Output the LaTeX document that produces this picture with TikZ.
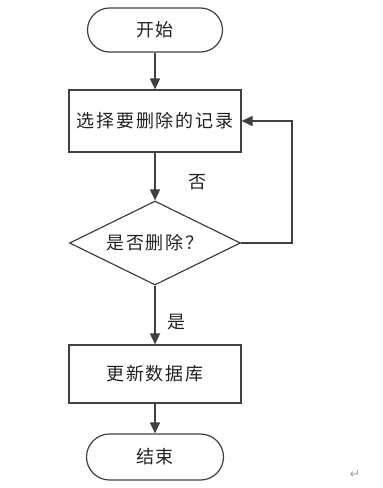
\documentclass[tikz,border=0pt]{standalone}
\usepackage{fontspec}
\newfontfamily\cjk[LetterSpace=10]{Noto Sans CJK SC}
\newfontfamily\dejavu{DejaVu Sans}
\usetikzlibrary{shapes.geometric,arrows.meta}
\definecolor{linec}{HTML}{404040}
\definecolor{textc}{HTML}{222222}
\tikzset{
  every node/.style={font=\cjk\fontsize{18pt}{21pt}\selectfont, text=textc},
  term/.style={draw=linec, line width=1.2pt, minimum width=135pt, minimum height=44pt, rounded corners=22pt, inner sep=0pt},
  procbox/.style={draw=linec, line width=1.2pt, minimum width=172pt, minimum height=62pt, inner sep=0pt},
  decis/.style={draw=linec, line width=1.2pt, diamond, aspect=2, minimum width=171pt, minimum height=84pt, inner sep=0pt},
  conn/.style={draw=linec, line width=1.7pt, -{Triangle[length=11pt,width=10pt]}},
  lbl/.style={inner sep=0pt},
}
\begin{document}
\begin{tikzpicture}[x=1pt,y=1pt]
\useasboundingbox (0,0) rectangle (383,-488);
\node[term] (start) at (155,-30) {开始};
\node[procbox] (sel) at (155,-121) {选择要删除的记录};
\node[decis] (dec) at (155,-243) {是否删除？};
\node[procbox, minimum height=58pt] (upd) at (155,-374) {更新数据库};
\node[term, minimum width=137pt, minimum height=46pt, rounded corners=23pt] (end) at (155,-457) {结束};
\coordinate (fb) at (292,-243);
\draw[conn] (start) -- (sel);
\draw[conn] (sel) -- (dec);
\draw[conn] (dec) -- (upd);
\draw[conn] (upd) -- (end);
\draw[conn] (dec.east) -- (fb) |- (sel.east);
\node[lbl] (no) at (197,-182) {否};
\node[lbl] (yes) at (176,-322) {是};
\node[lbl, font=\dejavu\fontsize{13pt}{15pt}\selectfont, text=gray!70] (ret) at (355,-474) {↵};
\end{tikzpicture}
\end{document}
